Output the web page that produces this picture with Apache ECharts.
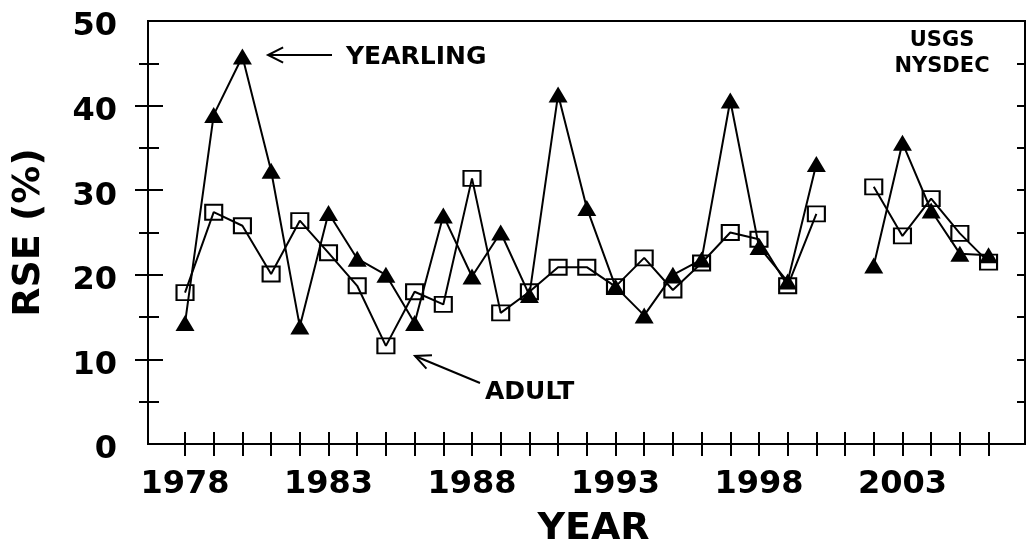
<!DOCTYPE html>
<html>
<head>
<meta charset="utf-8">
<script src="https://cdn.jsdelivr.net/npm/echarts@6/dist/echarts.min.js"></script>
<style>html,body{margin:0;padding:0;background:#fff}#c{width:1028px;height:540px}</style>
</head>
<body>
<div id="c"></div>
<script>
const years = [1978,1979,1980,1981,1982,1983,1984,1985,1986,1987,1988,1989,1990,1991,1992,1993,1994,1995,1996,1997,1998,1999,2000,2001,2002,2003,2004,2005,2006];
const yearling = [14.3,38.9,45.8,32.3,13.9,27.3,21.9,20.0,14.3,27.0,19.8,25.0,17.6,41.3,27.9,18.6,15.2,20.0,21.8,40.6,23.3,19.2,33.1,null,21.1,35.6,27.6,22.5,22.3];
const adult = [17.9,27.4,25.8,20.1,26.4,22.6,18.7,11.6,18.0,16.5,31.4,15.5,18.0,20.9,20.9,18.6,22.0,18.2,21.4,25.0,24.2,18.7,27.2,null,30.4,24.6,29.0,24.9,21.5];
const xLabels = [1978,1983,1988,1993,1998,2003];
const yLabels = [0,10,20,30,40,50];
const yMajorTicks = [10,20,30,40];
const yMinorTicks = [5,15,25,35,45];
const yAllTicks = [5,10,15,20,25,30,35,40,45];

const FONT = 'DejaVu Sans';
const toData = v => years.map((y,i) => [y, v[i] == null ? '-' : v[i]]);

function arrow(x1,y1,x2,y2,len,ang){
  const dx=x1-x2, dy=y1-y2, L=Math.hypot(dx,dy), ux=dx/L, uy=dy/L;
  const c=Math.cos(ang), s=Math.sin(ang);
  const w1=[x2+len*(ux*c-uy*s), y2+len*(ux*s+uy*c)];
  const w2=[x2+len*(ux*c+uy*s), y2+len*(-ux*s+uy*c)];
  return [
    {type:'line',shape:{x1:x1,y1:y1,x2:x2,y2:y2},style:{stroke:'#000',lineWidth:2}},
    {type:'polyline',shape:{points:[w1,[x2,y2],w2]},style:{stroke:'#000',lineWidth:2,fill:null}}
  ];
}

const XMIN = 1976.71, XMAX = 2007.27;
const tickStyle = {color:'#000', width:2};

const chart = echarts.init(document.getElementById('c'));
chart.setOption({
  animation:false,
  backgroundColor:'#fff',
  grid:{left:148,right:3,top:21,bottom:96,containLabel:false,outerBoundsMode:'none',
        show:true,borderColor:'#000',borderWidth:2,backgroundColor:'transparent'},
  xAxis:[
    {type:'value',position:'bottom',min:XMIN,max:XMAX,
     axisLine:{show:true,lineStyle:{color:'#000',width:2}},
     axisTick:{show:true,inside:false,length:12,customValues:years,lineStyle:tickStyle},
     axisLabel:{customValues:xLabels,margin:25,formatter:v=>String(v),color:'#000',fontFamily:FONT,fontWeight:'bold',fontSize:32},
     splitLine:{show:false},
     name:'YEAR',nameLocation:'middle',nameGap:66,
     nameTextStyle:{color:'#000',fontFamily:FONT,fontWeight:'bold',fontSize:38,padding:[0,0,0,14]}},
    {type:'value',position:'bottom',min:XMIN,max:XMAX,
     axisLine:{show:false},
     axisTick:{show:true,inside:true,length:12,customValues:years,lineStyle:tickStyle},
     axisLabel:{show:false},splitLine:{show:false}}
  ],
  yAxis:[
    {type:'value',position:'left',min:0,max:50,interval:10,
     axisLine:{show:true,lineStyle:{color:'#000',width:2}},
     axisTick:{show:true,inside:false,length:13,customValues:yMajorTicks,lineStyle:tickStyle},
     axisLabel:{customValues:yLabels,margin:31,formatter:v=>'{n|'+v+'}',
       rich:{n:{color:'#000',fontFamily:FONT,fontWeight:'bold',fontSize:32,padding:[12,0,0,0]}}},
     splitLine:{show:false},
     name:'RSE (%)',nameLocation:'middle',nameGap:100,nameRotate:90,
     nameTextStyle:{color:'#000',fontFamily:FONT,fontWeight:'bold',fontSize:38}},
    {type:'value',position:'left',min:0,max:50,interval:5,
     axisLine:{show:false},axisLabel:{show:false},splitLine:{show:false},
     axisTick:{show:true,inside:false,length:9,customValues:yMinorTicks,lineStyle:tickStyle}},
    {type:'value',position:'left',min:0,max:50,interval:5,
     axisLine:{show:false},axisLabel:{show:false},splitLine:{show:false},
     axisTick:{show:true,inside:true,length:15,customValues:yMajorTicks,lineStyle:tickStyle}},
    {type:'value',position:'left',min:0,max:50,interval:5,
     axisLine:{show:false},axisLabel:{show:false},splitLine:{show:false},
     axisTick:{show:true,inside:true,length:11,customValues:yMinorTicks,lineStyle:tickStyle}},
    {type:'value',position:'right',min:0,max:50,interval:5,
     axisLine:{show:true,lineStyle:{color:'#000',width:2}},axisLabel:{show:false},splitLine:{show:false},
     axisTick:{show:true,inside:true,length:8,customValues:yAllTicks,lineStyle:tickStyle}}
  ],
  series:[
    {name:'Adult',type:'line',data:toData(adult),connectNulls:false,
     symbol:'rect',symbolSize:[17,15],
     itemStyle:{color:'rgba(0,0,0,0)',borderColor:'#000',borderWidth:2},
     lineStyle:{color:'#000',width:2},z:3},
    {name:'Yearling',type:'line',data:toData(yearling),connectNulls:false,
     symbol:'triangle',symbolSize:[19,16],
     itemStyle:{color:'#000',borderColor:'#000',borderWidth:0},
     lineStyle:{color:'#000',width:2},z:4}
  ],
  graphic:[
    {type:'text',style:{text:'YEARLING',x:346,y:57,verticalAlign:'middle',font:'bold 25px "DejaVu Sans"',fill:'#000'}},
    {type:'text',style:{text:'ADULT',x:485,y:392,verticalAlign:'middle',font:'bold 25px "DejaVu Sans"',fill:'#000'}},
    {type:'text',style:{text:'USGS\nNYSDEC',x:942,y:54,align:'center',verticalAlign:'middle',lineHeight:26,font:'bold 21px "DejaVu Sans"',fill:'#000'}},
    ...arrow(332,55,268,55,17,Math.PI*0.15),
    ...arrow(480,383,415,356,17,Math.PI*0.14)
  ]
});
</script>
</body>
</html>
